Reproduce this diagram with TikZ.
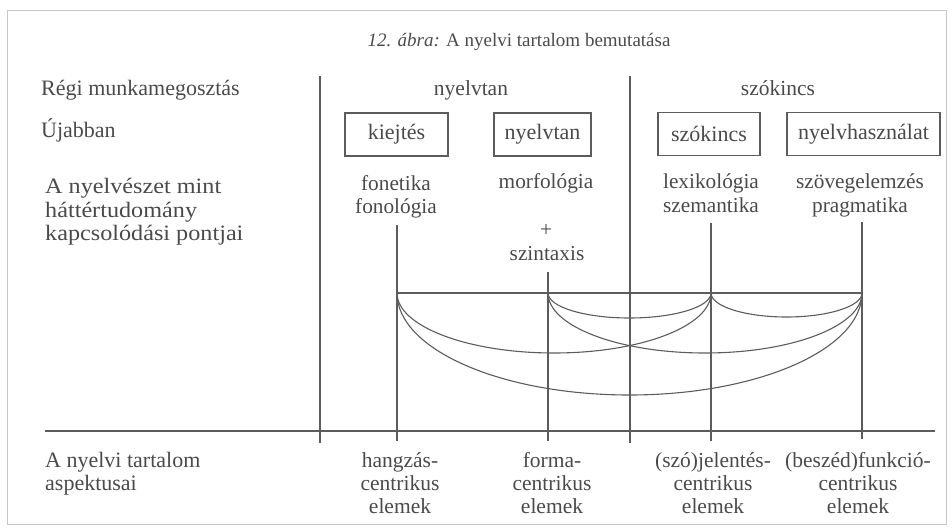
\documentclass[tikz,border=0pt]{standalone}
\usepackage{fontspec}
\setmainfont{Liberation Serif}
\newfontfamily\widefont[FakeStretch=1.1]{Liberation Serif}
\definecolor{ink}{HTML}{4A4A4A}
\definecolor{rule}{HTML}{5C5C5C}
\begin{document}
\begin{tikzpicture}[x=1pt,y=-1pt,
  lbl/.style={inner sep=0pt, text=ink, anchor=base},
  leftlbl/.style={lbl, anchor=base west, font=\fontsize{22}{24}\selectfont},
  bglbl/.style={lbl, anchor=base west, font=\widefont\fontsize{22}{24}\selectfont},
  hdr/.style={lbl, font=\fontsize{21.5}{24}\selectfont},
  term/.style={lbl, font=\fontsize{21.3}{24}\selectfont},
  boxlbl/.style={draw=rule, line width=1.1pt, text=ink, inner sep=0pt, minimum height=43pt, font=\fontsize{22}{24}\selectfont},
  asp/.style={lbl, font=\fontsize{21.5}{24}\selectfont},
  ln/.style={draw=rule, line width=1.1pt},
]
\useasboundingbox (0,0) rectangle (952,527);
\draw[black!22, line width=0.8pt] (7,10) rectangle (946,524);

% title
\node[lbl, font=\fontsize{19}{22}\selectfont] (title) at (519,46) {\textit{12. ábra:} A nyelvi tartalom bemutatása};

% left column
\node[leftlbl] (regi) at (41,95) {Régi munkamegosztás};
\node[leftlbl] (ujabb) at (41,137) {Újabban};
\node[bglbl] (ny1) at (45,193) {A nyelvészet mint};
\node[bglbl] (ny2) at (45,217) {háttértudomány};
\node[bglbl] (ny3) at (45,240) {kapcsolódási pontjai};
\node[leftlbl] (asp1) at (45,467) {A nyelvi tartalom};
\node[leftlbl] (asp2) at (45,490) {aspektusai};

% headers
\node[hdr] (hnyelv) at (471,95) {nyelvtan};
\node[hdr] (hszo) at (778,95) {szókincs};

% boxes
\node[boxlbl, minimum width=103pt] (bkiej) at (396.5,134.5) {kiejtés};
\node[boxlbl, minimum width=97pt] (bnyelv) at (542.5,134.5) {nyelvtan};
\node[boxlbl, minimum width=102pt] (bszo) at (709,134) {szókincs};
\node[boxlbl, minimum width=153pt] (bhasz) at (863.5,134) {nyelvhasználat};

% terms
\node[term] (fon1) at (396,190) {fonetika};
\node[term] (fon2) at (396,213) {fonológia};
\node[term] (morf) at (546,188) {morfológia};
\node[term] (plus) at (546,236) {+};
\node[term] (szint) at (547,260) {szintaxis};
\node[term] (lex1) at (711,188) {lexikológia};
\node[term] (lex2) at (711,212) {szemantika};
\node[term] (szov1) at (860,188) {szövegelemzés};
\node[term] (szov2) at (860,212) {pragmatika};

% bottom column labels
\node[asp] (h1) at (400,467) {hangzás-};
\node[asp] (h2) at (400,490) {centrikus};
\node[asp] (h3) at (400,513) {elemek};
\node[asp] (f1) at (552,467) {forma-};
\node[asp] (f2) at (552,490) {centrikus};
\node[asp] (f3) at (552,513) {elemek};
\node[asp] (j1) at (713,467) {(szó)jelentés-};
\node[asp] (j2) at (713,490) {centrikus};
\node[asp] (j3) at (713,513) {elemek};
\node[asp] (k1) at (858,467) {(beszéd)funkció-};
\node[asp] (k2) at (858,490) {centrikus};
\node[asp] (k3) at (858,513) {elemek};

% dividers
\coordinate (d1t) at (320,76); \coordinate (d1b) at (320,443);
\coordinate (d2t) at (630,76); \coordinate (d2b) at (630,443);
\draw[ln] (d1t) -- (d1b);
\draw[ln] (d2t) -- (d2b);

% bottom rule
\coordinate (bl) at (45,431); \coordinate (br) at (935,431);
\draw[ln] (bl) -- (br);

% connector verticals
\coordinate (v1t) at (397,225); \coordinate (v1b) at (397,441);
\coordinate (v2t) at (548,272); \coordinate (v2b) at (548,441);
\coordinate (v3t) at (711,223); \coordinate (v3b) at (711,441);
\coordinate (v4t) at (862,222); \coordinate (v4b) at (862,439);
\draw[ln] (v1t) -- (v1b);
\draw[ln] (v2t) -- (v2b);
\draw[ln] (v3t) -- (v3b);
\draw[ln] (v4t) -- (v4b);

% top connector and arcs
\coordinate (p1) at (397,293);
\coordinate (p2) at (548,293);
\coordinate (p3) at (711,293);
\coordinate (p4) at (862,293);
\draw[ln] (p1) -- (p4);
\draw[ln] (p2) arc[start angle=180, end angle=360, x radius=81.5pt, y radius=25pt];
\draw[ln] (p3) arc[start angle=180, end angle=360, x radius=75.5pt, y radius=24pt];
\draw[ln] (p1) arc[start angle=180, end angle=360, x radius=157pt, y radius=60pt];
\draw[ln] (p2) arc[start angle=180, end angle=360, x radius=157pt, y radius=60pt];
\draw[ln] (p1) arc[start angle=180, end angle=360, x radius=232.5pt, y radius=102pt];
\end{tikzpicture}
\end{document}
